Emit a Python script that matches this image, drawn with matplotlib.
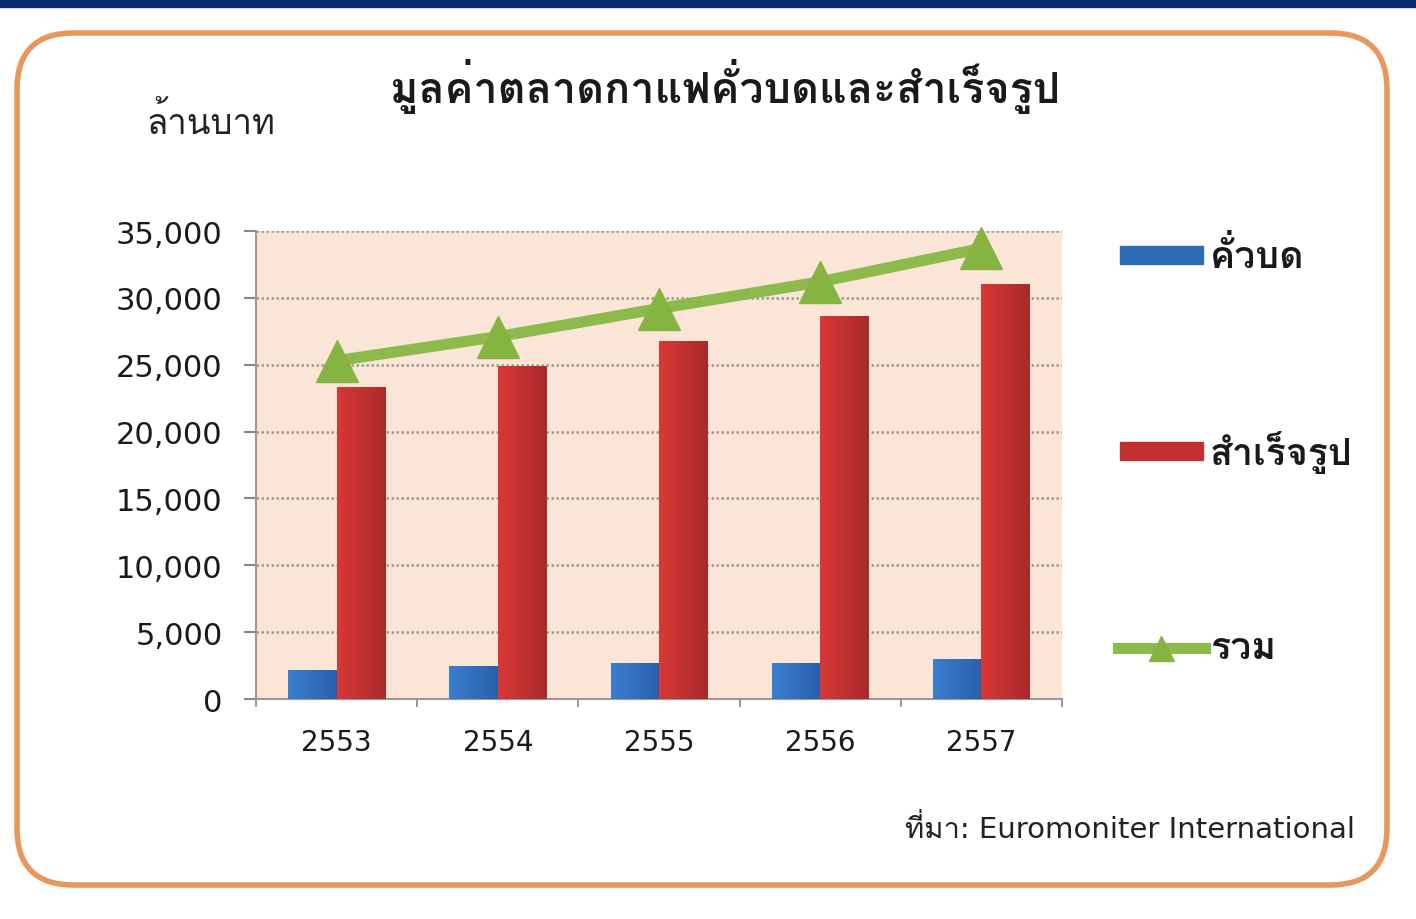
import numpy as np
import matplotlib
matplotlib.use('Agg')
import matplotlib.pyplot as plt
from matplotlib.colors import LinearSegmentedColormap
from matplotlib.patches import FancyBboxPatch, Rectangle
from matplotlib.lines import Line2D

# Data (million baht)
years = ['2553', '2554', '2555', '2556', '2557']
roasted = [2200, 2450, 2700, 2700, 3000]          # คั่วบด
instant = [23300, 24900, 26800, 28650, 31000]     # สำเร็จรูป
total = [25300, 27100, 29200, 31200, 33700]       # รวม
y_ticks = [0, 5000, 10000, 15000, 20000, 25000, 30000, 35000]

# Loma is a Tahoma-like Thai font, DejaVu Sans for the latin/digits
thai = ['Loma', 'Noto Sans Thai Looped', 'DejaVu Sans']
latin = ['DejaVu Sans', 'Loma']
plt.rcParams['font.family'] = thai

fig = plt.figure(figsize=(14.16, 9.2), dpi=100)
fig.patch.set_facecolor('white')

# navy strip at the top and orange rounded frame
fig.patches.append(Rectangle((0, 1 - 8 / 920), 1, 8 / 920, transform=fig.transFigure,
                             color='#0b2a70', zorder=-2))
fig.patches.append(FancyBboxPatch((17 / 1416, 1 - 886 / 920), 1370 / 1416, 852 / 920,
                                  boxstyle='round,pad=0,rounding_size=0.04',
                                  transform=fig.transFigure, facecolor='white',
                                  edgecolor='#e8975e', linewidth=4, zorder=-2,
                                  mutation_aspect=1416 / 920))

ax = fig.add_axes([256 / 1416, 1 - 700 / 920, 806 / 1416, 468 / 920])
ax.set_facecolor('#fbe5d7')

x = np.arange(len(years))
w = 0.3
blue_bars = ax.bar(x - w / 2, roasted, w, color='#2f6cb8', zorder=3)
red_bars = ax.bar(x + w / 2, instant, w, color='#c4302f', zorder=3)


def shade(bars, light, dark):
    # horizontal gradient inside each bar, lighter on the left
    cmap = LinearSegmentedColormap.from_list('g', [light, dark])
    grad = np.linspace(0, 1, 64).reshape(1, -1)
    for b in bars:
        x0, y0 = b.get_x(), b.get_y()
        im = ax.imshow(grad, cmap=cmap, aspect='auto', zorder=3,
                       extent=[x0, x0 + b.get_width(), y0, y0 + b.get_height()])
        im.set_clip_path(b)


shade(blue_bars, '#3a7fd0', '#2a5fa8')
shade(red_bars, '#d83836', '#a92a2a')

ax.plot(x, total, color='#8cba4c', lw=8, marker='^', markersize=30,
        markerfacecolor='#86b443', markeredgecolor='#86b443', zorder=4, clip_on=False)

ax.set_xlim(-0.5, len(years) - 0.5)
ax.set_ylim(0, 35000)
ax.set_yticks(y_ticks)
ax.set_yticklabels(['{:,}'.format(v) for v in y_ticks], fontsize=22, family=latin,
                   color='#1a1a1a')
ax.set_xticks(x)
ax.set_xticklabels(years, fontsize=20, family=latin, color='#1a1a1a')
ax.set_xticks(np.arange(-0.5, len(years)), minor=True)
ax.tick_params(axis='x', which='major', length=0, pad=21)
ax.tick_params(axis='x', which='minor', length=6, color='#888888', width=1.2)
ax.tick_params(axis='y', length=9, color='#888888', width=1.5, pad=15)
ax.yaxis.grid(True, linestyle=(0, (1, 1)), color='#999999', lw=1.8, zorder=1)
ax.set_axisbelow(True)
for s in ['top', 'right']:
    ax.spines[s].set_visible(False)
for s in ['left', 'bottom']:
    ax.spines[s].set_color('#999999')
    ax.spines[s].set_linewidth(1.5)

fig.text(725 / 1416, 1 - 86 / 920, 'มูลค่าตลาดกาแฟคั่วบดและสำเร็จรูป', ha='center', va='center',
         fontsize=31, fontweight='bold', color='#1a1a1a')
fig.text(211 / 1416, 1 - 122 / 920, 'ล้านบาท', ha='center', va='center', fontsize=25,
         color='#222222')

# legend drawn by hand to spread the entries down the side
legend_y = [256, 452, 649]
labels = ['คั่วบด', 'สำเร็จรูป', 'รวม']
fig.patches.append(Rectangle((1120 / 1416, 1 - 265 / 920), 83 / 1416, 18 / 920,
                             transform=fig.transFigure, color='#2f6cb8'))
fig.patches.append(Rectangle((1120 / 1416, 1 - 461 / 920), 83 / 1416, 18 / 920,
                             transform=fig.transFigure, color='#c4302f'))
fig.lines.append(Line2D([1118 / 1416, 1205 / 1416], [1 - 649 / 920, 1 - 649 / 920],
                        transform=fig.transFigure, color='#8cba4c', lw=8))
fig.lines.append(Line2D([1161 / 1416], [1 - 649 / 920], transform=fig.transFigure,
                        marker='^', markersize=18, color='#86b443'))
for ly, lab in zip(legend_y, labels):
    fig.text(1210 / 1416, 1 - ly / 920, lab, ha='left', va='center', fontsize=27,
             fontweight='bold', color='#1a1a1a')

fig.text(1355 / 1416, 1 - 830 / 920, 'ที่มา: Euromoniter International', ha='right',
         va='center', fontsize=21, family=latin, color='#222222')

fig.savefig('out.png', dpi=100)
